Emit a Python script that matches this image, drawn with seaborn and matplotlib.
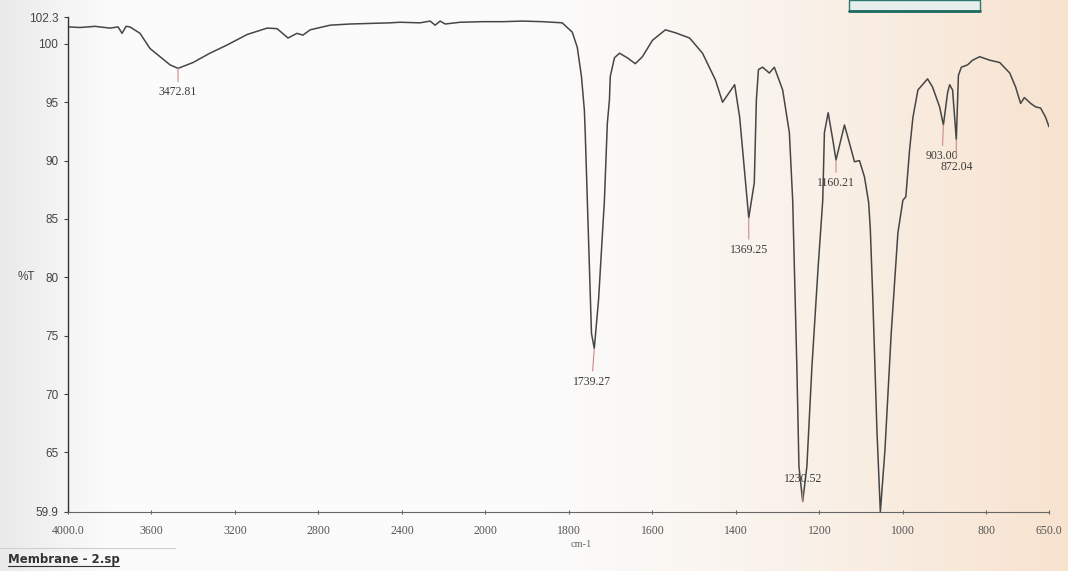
import numpy as np
import pandas as pd
import matplotlib
matplotlib.use("Agg")
import matplotlib.pyplot as plt
from matplotlib.patches import Rectangle
import seaborn as sns

# ---------------- data ----------------
wavenumber = [4000, 3942, 3871, 3799, 3760, 3741, 3722, 3703, 3655, 3607, 3559, 3511,
              3472.81, 3401, 3320, 3238, 3142, 3046, 2998, 2946, 2903, 2874, 2840,
              2744, 2649, 2553, 2457, 2409, 2313, 2265, 2241, 2217, 2193, 2121, 2014,
              1959, 1911, 1863, 1816, 1792, 1780, 1770, 1763, 1761, 1751, 1746,
              1739.27, 1729, 1715, 1708, 1703, 1701, 1691, 1679, 1660, 1641, 1624,
              1600, 1569, 1545, 1511, 1480, 1449, 1432, 1403, 1391, 1377, 1369.25,
              1356, 1351, 1346, 1336, 1320, 1308, 1288, 1272, 1264, 1254, 1249,
              1240, 1230, 1218, 1203, 1192, 1188, 1179, 1168, 1160.21, 1140,
              1128, 1116, 1104, 1092, 1082, 1078, 1072, 1062, 1054, 1043, 1028,
              1012, 1000, 993, 984, 976, 964, 953, 941, 929, 912, 903.00, 893, 888,
              881, 876, 872.04, 867, 860, 845, 833, 816, 792, 768, 744, 730, 718,
              709, 694, 682, 670, 658, 650]
transmittance = [101.45, 101.4, 101.5, 101.35, 101.45, 100.9, 101.5, 101.45, 100.9, 99.6,
                 98.9, 98.2, 97.9, 98.4, 99.2, 99.9, 100.8, 101.35, 101.3, 100.5,
                 100.9, 100.75, 101.2, 101.6, 101.7, 101.75, 101.8, 101.85, 101.8,
                 101.95, 101.6, 101.95, 101.7, 101.85, 101.9, 101.9, 101.95, 101.9,
                 101.8, 101.0, 99.7, 97.2, 94.3, 92.4, 80.9, 75.2, 73.9, 78.1, 86.6,
                 93.2, 95.2, 97.2, 98.8, 99.2, 98.8, 98.3, 98.9, 100.3, 101.2, 100.95,
                 100.5, 99.2, 96.9, 95.0, 96.5, 93.7, 88.1, 85.1, 88.1, 95.2, 97.8,
                 98.0, 97.5, 98.0, 96.05, 92.4, 86.6, 72.3, 63.8, 60.8, 63.8, 72.3,
                 80.9, 86.6, 92.4, 94.1, 91.8, 90.05, 93.05, 91.5, 89.9, 90.0, 88.6,
                 86.4, 84.1, 78.1, 66.7, 59.9, 65.2, 75.2, 83.8, 86.6, 86.9, 90.9,
                 93.7, 96.05, 96.5, 97.0, 96.3, 94.6, 93.05, 95.8, 96.5, 96.05, 93.7,
                 91.8, 97.3, 98.0, 98.2, 98.6, 98.9, 98.6, 98.4, 97.5, 96.3, 94.9,
                 95.4, 94.9, 94.6, 94.5, 93.7, 92.9]

peak_wn = [3472.81, 1739.27, 1369.25, 1240, 1160.21, 903.00, 872.04]
peak_t = [97.9, 73.9, 85.1, 60.8, 90.05, 93.05, 91.8]
peak_labels = ["3472.81", "1739.27", "1369.25", "1230.52", "1160.21", "903.00", "872.04"]

y_ticks = [59.9, 65, 70, 75, 80, 85, 90, 95, 100, 102.3]
y_ticklabels = ["59.9", "65", "70", "75", "80", "85", "90", "95", "100", "102.3"]
x_ticks = [4000, 3600, 3200, 2800, 2400, 2000, 1800, 1600, 1400, 1200, 1000, 800, 650]
x_ticklabels = ["4000.0", "3600", "3200", "2800", "2400", "2000", "1800", "1600",
                "1400", "1200", "1000", "800", "650.0"]

df = pd.DataFrame({"wn": wavenumber, "T": transmittance})

# ---------------- figure ----------------
sns.set_theme(style="white")
W, H = 1068, 571
fig = plt.figure(figsize=(W / 100, H / 100), dpi=100)

# photo-like background
bg = fig.add_axes([0, 0, 1, 1], zorder=-5)
xs = np.linspace(0, 1, 400)
left = np.array([0.92, 0.92, 0.92])
mid = np.array([0.985, 0.985, 0.985])
right = np.array([0.97, 0.89, 0.81])
img = np.zeros((2, 400, 3))
for i, x in enumerate(xs):
    if x < 0.5:
        f = min(x / 0.1, 1.0)
        c = left + (mid - left) * f
    else:
        f = (x - 0.5) / 0.5
        c = mid + (right - mid) * f ** 1.3
    img[:, i, :] = c
bg.imshow(img, aspect="auto", extent=[0, 1, 0, 1])
bg.set_axis_off()

ax = fig.add_axes([68 / W, 1 - 512 / H, (1049 - 68) / W, (512 - 17) / H])
ax.set_facecolor("none")


def fwd(w):
    w = np.asarray(w, dtype=float)
    return np.where(w > 2000, 2000 + (w - 2000) / 2.0, w)


def inv(u):
    u = np.asarray(u, dtype=float)
    return np.where(u > 2000, 2000 + (u - 2000) * 2.0, u)


ax.set_xscale("function", functions=(fwd, inv))

sns.lineplot(data=df, x="wn", y="T", sort=False, estimator=None, ax=ax,
             color="#464646", linewidth=1.1)

ax.set_xlim(4000, 650)
ax.set_ylim(59.9, 102.3)

ax.set_yticks(y_ticks)
ax.set_yticklabels(y_ticklabels, fontsize=8.5, color="#444444", family="Liberation Sans")
ax.set_xticks(x_ticks)
ax.set_xticklabels(x_ticklabels, fontsize=8.5, color="#555555", family="Liberation Serif")
ax.xaxis.set_minor_locator(matplotlib.ticker.NullLocator())
ax.tick_params(axis="y", direction="out", length=3, width=0.8, color="#444444", pad=4, left=True)
ax.tick_params(axis="x", direction="inout", length=3, width=0.8, color="#666666", pad=8, bottom=True)

for s in ["top", "right"]:
    ax.spines[s].set_visible(False)
ax.spines["left"].set_color("#333333")
ax.spines["left"].set_linewidth(1.0)
ax.spines["bottom"].set_color("#666666")
ax.spines["bottom"].set_linewidth(0.8)

ax.set_xlabel("")
ax.set_ylabel("")
ax.text(-0.0335, (80 - 59.9) / (102.3 - 59.9), "%T", transform=ax.transAxes,
        fontsize=8.5, color="#444444", ha="right", va="center", family="Liberation Sans")
ax.text(0.512, -0.056, "cm-1", transform=ax.transAxes, fontsize=7.5, color="#666666",
        ha="left", va="top", family="Liberation Serif")

# peak annotations (offsets in pixels: text below unless positive)
offsets = {"3472.81": (0, -24), "1739.27": (-2, -33), "1369.25": (0, -32),
           "1230.52": (0, 22), "1160.21": (0, -23), "903.00": (-1, -31),
           "872.04": (0, -27)}
for w, t, lab in zip(peak_wn, peak_t, peak_labels):
    dx, dy = offsets[lab]
    above = dy > 0
    ax.annotate(lab, xy=(w, t), xytext=(dx, dy), textcoords="offset pixels",
                ha="center", va="center", fontsize=8.5, color="#3a3a3a",
                family="Liberation Serif",
                arrowprops=dict(arrowstyle="-", color="#c98a8a", lw=0.8,
                                shrinkA=1, shrinkB=0,
                                relpos=(0.5, 0.0) if above else (0.5, 1.0)))

# bottom file name and decoration
fig.text(8 / W, 1 - 559 / H, "Membrane - 2.sp", fontsize=8.5, fontweight="bold",
         color="#333333", ha="left", va="center", family="DejaVu Sans")
fig.add_artist(plt.Line2D([8 / W, 119 / W], [1 - 566 / H, 1 - 566 / H],
                          color="#333333", lw=0.8))
fig.add_artist(plt.Line2D([0, 175 / W], [1 - 548 / H, 1 - 548 / H],
                          color="#cfcfcf", lw=0.8))
fig.add_artist(Rectangle((849 / W, 1 - 11 / H), 131 / W, 11 / H,
                         transform=fig.transFigure, facecolor="#e6efed",
                         edgecolor="#2a7a70", lw=1.0))
fig.add_artist(plt.Line2D([849 / W, 980 / W], [1 - 11 / H, 1 - 11 / H],
                          color="#1f6a60", lw=2.0))

fig.savefig("out.png", dpi=100)
